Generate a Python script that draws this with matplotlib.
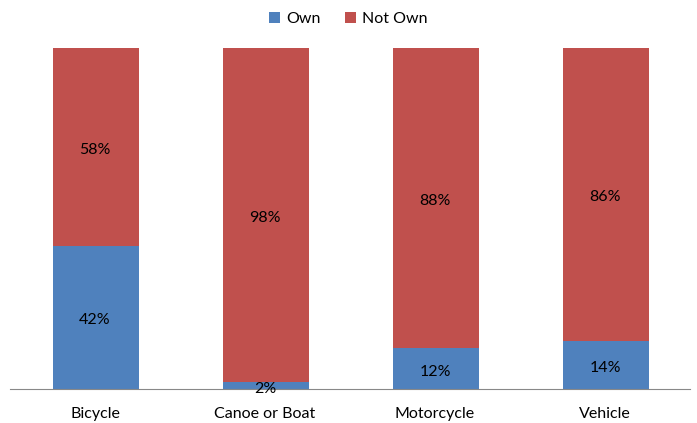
import matplotlib
matplotlib.use("Agg")
import matplotlib.pyplot as plt
import numpy as np

categories = ["Bicycle", "Canoe or Boat", "Motorcycle", "Vehicle"]
own = [42, 2, 12, 14]
not_own = [58, 98, 88, 86]

plt.rcParams['font.family'] = ['Lato', 'DejaVu Sans']

fig = plt.figure(figsize=(6.97, 4.23), dpi=100)
ax = fig.add_axes([10/697, 34/423, 680/697, 341/423])

x = np.arange(len(categories))
w = 0.51
blue = "#4F81BD"
red = "#C0504D"
ax.bar(x + 0.005, own, w, color=blue, label="Own")
ax.bar(x + 0.005, not_own, w, bottom=own, color=red, label="Not Own")

fs = 11.5
for i in range(len(categories)):
    ax.text(x[i], own[i] / 2 - 0.9, f"{own[i]}%", ha="center", va="center", fontsize=fs)
    ax.text(x[i], own[i] + not_own[i] / 2 - 0.8, f"{not_own[i]}%", ha="center", va="center", fontsize=fs)

ax.set_xlim(-0.5, 3.5)
ax.set_ylim(0, 100)
ax.set_xticks(x)
ax.set_xticklabels(categories, fontsize=fs)
ax.tick_params(axis="x", length=0, pad=13)
ax.set_yticks([])
for s in ["top", "left", "right"]:
    ax.spines[s].set_visible(False)
ax.spines["bottom"].set_color("#888888")

fig.legend(loc="upper center", bbox_to_anchor=(0.5, 1.005), ncol=2, frameon=False,
           fontsize=fs, handlelength=0.7, handleheight=0.7, handletextpad=0.4,
           columnspacing=1.5)

fig.savefig("out.png", dpi=100)
